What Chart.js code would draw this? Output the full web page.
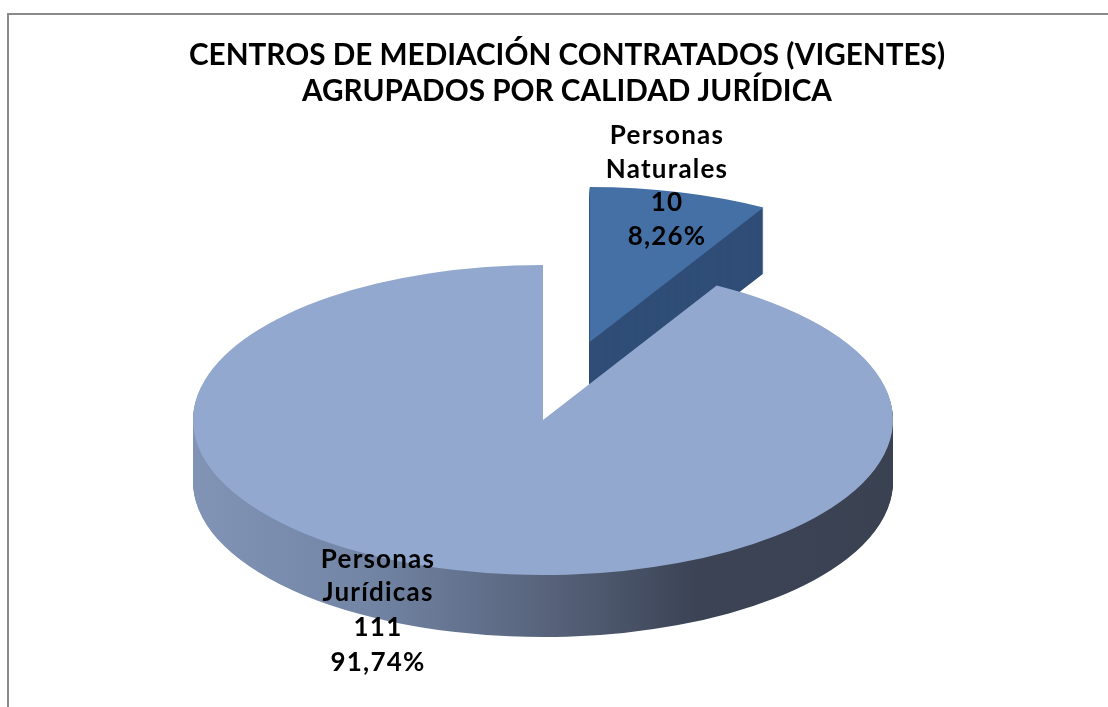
<!DOCTYPE html>
<html>
<head>
<meta charset="utf-8">
<style>
  html, body { margin: 0; padding: 0; background: #fff; overflow: hidden; }
  #wrap { position: relative; width: 1108px; height: 707px; }
  #frame { position: absolute; left: 7px; top: 13px; right: 0; bottom: 0; border-top: 2px solid #8a8a8a; border-left: 2px solid #8a8a8a; }
  canvas { position: absolute; left: 0; top: 0; filter: blur(0.6px); }
</style>
<script src="https://cdn.jsdelivr.net/npm/chart.js@4"></script>
</head>
<body>
<div id="wrap">
  <div id="frame"></div>
  <canvas id="pie" width="1108" height="707"></canvas>
</div>
<script>
// Datos
const titleLines = ['CENTROS DE MEDIACIÓN CONTRATADOS (VIGENTES)', 'AGRUPADOS POR CALIDAD JURÍDICA'];
const categories = ['Personas Naturales', 'Personas Jurídicas'];
const counts = [10, 111];
const percents = ['8,26%', '91,74%'];
const nameLines = [['Personas', 'Naturales'], ['Personas', 'Jurídicas']];

const topColors = ['#4570a6', '#93a8ce'];
const sideColors = ['#2f4d76', null];   // null = degradado

// Proyeccion del pastel "3D"
const view = { cx: 543, cy: 420, radius: 350, tilt: 0.443 };
const explode = [182, 0];
const depth = [66, 62];
const labelPos = [{ x: 667, ys: [136, 170, 203, 237] }, { x: 378, ys: [560, 593, 628, 663] }];

function drawArc(ctx, arc, i, dy, color) {
    const mid = (arc.startAngle + arc.endAngle) / 2;
    const saved = arc.options;
    arc.options = Object.assign({}, saved, { backgroundColor: color });
    ctx.save();
    ctx.translate(view.cx, view.cy + dy);
    ctx.scale(1, view.tilt);
    ctx.translate(Math.cos(mid) * explode[i] - arc.x, Math.sin(mid) * explode[i] - arc.y);
    arc.draw(ctx);
    ctx.restore();
    arc.options = saved;
}

const tiltPlugin = {
    id: 'tiltPlugin',
    beforeDatasetDraw(chart, args) {
        const ctx = chart.ctx;
        args.meta.data.forEach((arc, i) => {
            let side = sideColors[i];
            if (!side) {
                side = ctx.createLinearGradient(arc.x - view.radius, 0, arc.x + view.radius, 0);
                side.addColorStop(0, '#8194b6');
                side.addColorStop(0.25, '#7285a5');
                side.addColorStop(0.5, '#58647c');
                side.addColorStop(0.72, '#3b4355');
                side.addColorStop(1, '#3a4252');
            }
            for (let d = depth[i]; d > 0; d--) {
                drawArc(ctx, arc, i, d, side);
            }
            drawArc(ctx, arc, i, 0, topColors[i]);
        });
        return false; // ya dibujado arriba
    },
    afterDraw(chart) {
        const ctx = chart.ctx;
        ctx.save();
        ctx.fillStyle = '#000';
        ctx.textAlign = 'center';
        ctx.textBaseline = 'middle';
        ctx.font = 'bold 26px Lato';
        ctx.letterSpacing = '1.2px';
        labelPos.forEach((pos, i) => {
            const lines = [...nameLines[i], String(counts[i]), percents[i]];
            lines.forEach((t, j) => ctx.fillText(t, pos.x, pos.ys[j]));
        });
        ctx.restore();
    }
};

new Chart(document.getElementById('pie'), {
    type: 'pie',
    data: {
        labels: categories,
        datasets: [{ data: counts, backgroundColor: topColors, borderWidth: 0, clip: false }]
    },
    options: {
        responsive: false,
        animation: false,
        radius: view.radius,
        layout: { padding: { left: 26 } },
        plugins: {
            legend: { display: false },
            tooltip: { enabled: false },
            title: {
                display: true,
                text: titleLines,
                color: '#000',
                font: { family: 'Lato', size: 29.7, weight: 'bold', lineHeight: 1.2 },
                padding: { top: 38, bottom: 10 }
            }
        }
    },
    plugins: [tiltPlugin]
});
</script>
</body>
</html>
